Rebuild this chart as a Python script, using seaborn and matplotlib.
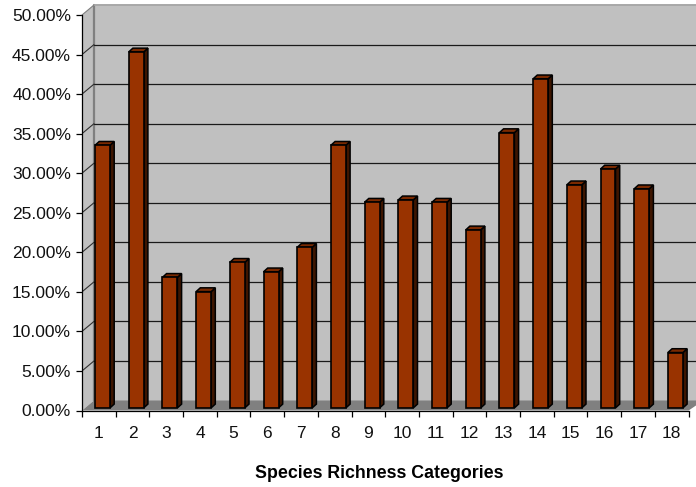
import matplotlib
matplotlib.use('Agg')
import matplotlib.pyplot as plt
from matplotlib.patches import Polygon
from matplotlib.transforms import Affine2D
from matplotlib.ticker import FixedLocator
import seaborn as sns
import pandas as pd

categories = [str(i) for i in range(1, 19)]
richness_pct = [33.2, 45.0, 16.5, 14.7, 18.4, 17.2, 20.3, 33.2, 26.0,
                26.3, 26.0, 22.5, 34.8, 41.6, 28.2, 30.2, 27.7, 7.0]
y_ticks = [0, 5, 10, 15, 20, 25, 30, 35, 40, 45, 50]

# pixel sizes of the fake 3d look
W, H = 696, 487
AX_LEFT, AX_FLOOR, AX_TOP = 82, 410.5, 4
STEP_X, STEP_Y = 33.7, 7.91
WALL_DX, WALL_DY = 12, 10
BAR_DX, BAR_DY = 3.65, 2.6
DEPTH_X, DEPTH_Y = 4.2, 3.8

sns.set_theme(style='white')
plt.rcParams['font.family'] = ['Liberation Sans', 'DejaVu Sans']

df = pd.DataFrame({'cat': categories, 'pct': richness_pct})

fig = plt.figure(figsize=(W / 100, H / 100), dpi=100)
ax = fig.add_axes([AX_LEFT / W, 1 - AX_FLOOR / H, 1 - AX_LEFT / W, (AX_FLOOR - AX_TOP) / H])

sns.barplot(data=df, x='cat', y='pct', color='#993300', saturation=1,
            width=15 / STEP_X, edgecolor='black', linewidth=1.2, ax=ax, zorder=5)

ax.set_xlim(-0.5, (W - AX_LEFT) / STEP_X - 0.5)
ax.set_ylim(0, (AX_FLOOR - AX_TOP) / STEP_Y)

wall_tf = ax.transData + Affine2D().translate(WALL_DX, WALL_DY)
bar_tf = ax.transData + Affine2D().translate(BAR_DX, BAR_DY)
x0, x1 = ax.get_xlim()
xend = 17.5

# back wall, side wall and floor
ax.add_patch(Polygon([(x0, 0), (x1, 0), (x1, 50), (x0, 50)], closed=True, transform=wall_tf,
                     facecolor='#c0c0c0', edgecolor='none', zorder=1, clip_on=False))
dx = WALL_DX / STEP_X
dy = WALL_DY / STEP_Y
ax.add_patch(Polygon([(x0, 0), (x0 + dx, dy), (x0 + dx, 50 + dy), (x0, 50)], closed=True,
                     facecolor='#c0c0c0', edgecolor='none', zorder=1, clip_on=False))
ax.add_patch(Polygon([(x0, 0), (x0 + dx, dy), (x1, dy), (x1, dy * 0.5), (xend, 0)], closed=True,
                     facecolor='#808080', edgecolor='none', zorder=2))
ax.plot([x0, x0], [0, 50], transform=wall_tf, color='#808080', lw=1.6, zorder=2, clip_on=False)
ax.plot([x0, x1], [50, 50], transform=wall_tf, color='#a8a8a8', lw=1.4, zorder=2, clip_on=False)

for t in y_ticks[1:-1]:
    ax.plot([x0, x1], [t, t], transform=wall_tf, color='#1a1a1a', lw=0.9, zorder=2)
    ax.plot([x0, x0 + dx], [t, t + dy], color='#303030', lw=0.8, zorder=2)
ax.plot([x0, x0 + dx], [50, 50 + dy], color='#808080', lw=0.8, zorder=2, clip_on=False)

# side and top of each bar
for bar in ax.containers[0]:
    bar.set_transform(bar_tf)
    bx, bw, bh = bar.get_x(), bar.get_width(), bar.get_height()
    ddx, ddy = DEPTH_X / STEP_X, DEPTH_Y / STEP_Y
    side = [(bx + bw, 0), (bx + bw + ddx, ddy), (bx + bw + ddx, bh + ddy), (bx + bw, bh)]
    top = [(bx, bh), (bx + ddx, bh + ddy), (bx + bw + ddx, bh + ddy), (bx + bw, bh)]
    ax.add_patch(Polygon(side, closed=True, transform=bar_tf, facecolor='#3d1500',
                         edgecolor='black', lw=1.1, zorder=4))
    ax.add_patch(Polygon(top, closed=True, transform=bar_tf, facecolor='#7a2900',
                         edgecolor='black', lw=1.1, zorder=4))

for name, spine in ax.spines.items():
    spine.set_visible(name in ('left', 'bottom'))
    spine.set_color('black')
    spine.set_linewidth(0.9)
    spine.set_zorder(6)
ax.spines['left'].set_bounds(0, 50)
ax.spines['bottom'].set_bounds(-0.5, xend)

ax.set_yticks(y_ticks)
ax.set_yticklabels([f'{t:.2f}%' for t in y_ticks])
ax.set_xticks(range(len(categories)))
ax.set_xticklabels(categories)
ax.xaxis.set_minor_locator(FixedLocator([i - 0.5 for i in range(len(categories) + 1)]))
ax.tick_params(axis='y', which='major', left=True, length=4.3, width=0.9, pad=3.6,
               labelsize=12.5, color='black', labelcolor='#111111')
ax.tick_params(axis='x', which='major', bottom=False, length=0, pad=11,
               labelsize=12.5, labelcolor='#111111')
ax.tick_params(axis='x', which='minor', bottom=True, length=4.3, width=0.9, color='black')

ax.set_ylabel('')
ax.set_xlabel('')
fig.text(379 / W, 1 - 473 / H, 'Species Richness Categories', ha='center', va='center',
         fontsize=12.8, fontweight='bold', color='black')

fig.savefig('out.png', dpi=100)
